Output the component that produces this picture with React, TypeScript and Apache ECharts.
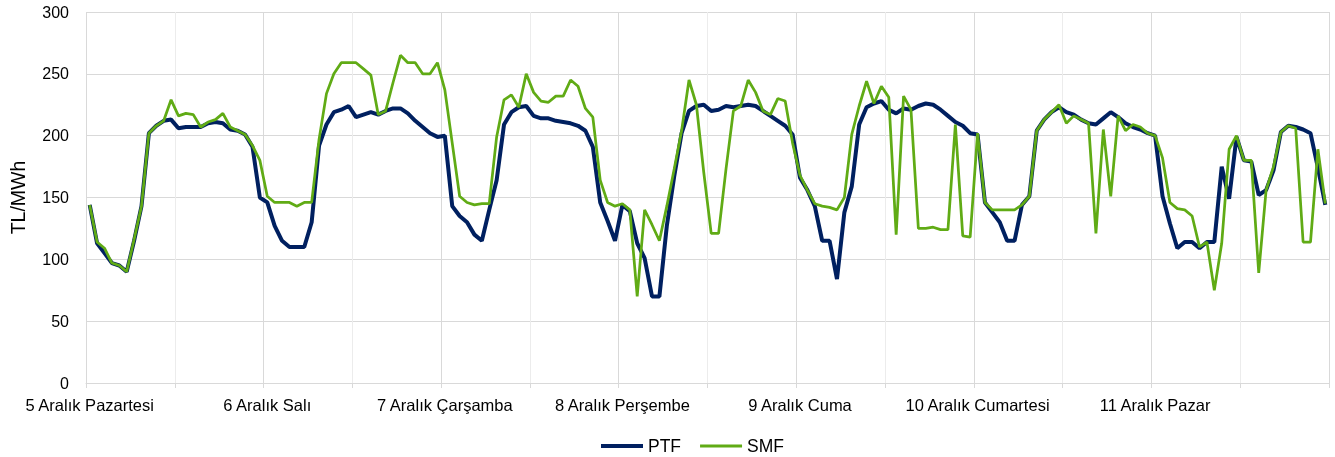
import React, { useEffect, useRef } from 'react';
import * as echarts from 'echarts';

const dayLabels = [
  '5 Aralık Pazartesi',
  '6 Aralık Salı',
  '7 Aralık Çarşamba',
  '8 Aralık Perşembe',
  '9 Aralık Cuma',
  '10 Aralık Cumartesi',
  '11 Aralık Pazar',
];
const hours = [
  '00', '01', '02', '03', '04', '05', '06', '07', '08', '09', '10', '11',
  '12', '13', '14', '15', '16', '17', '18', '19', '20', '21', '22', '23',
];

const ptfDay1 = [144, 113, 105, 97, 95, 90, 115, 143, 202, 208, 212, 213, 206, 207, 207, 207, 210, 211, 210, 205, 204, 201, 191, 150];
const ptfDay2 = [146, 127, 115, 110, 110, 110, 130, 192, 209, 219, 221, 224, 215, 217, 219, 217, 220, 222, 222, 218, 212, 207, 202, 199];
const ptfDay3 = [200, 143, 135, 130, 120, 115, 140, 164, 209, 219, 223, 224, 216, 214, 214, 212, 211, 210, 208, 204, 191, 146, 131, 115];
const ptfDay4 = [144, 139, 113, 101, 70, 70, 127, 167, 202, 220, 224, 225, 220, 221, 224, 223, 224, 225, 224, 220, 216, 212, 208, 201];
const ptfDay5 = [166, 156, 143, 115, 115, 84, 138, 159, 209, 223, 226, 228, 221, 218, 222, 221, 224, 226, 225, 221, 216, 211, 208, 202];
const ptfDay6 = [201, 146, 138, 130, 115, 115, 144, 151, 204, 213, 219, 223, 219, 217, 213, 210, 209, 214, 219, 215, 210, 207, 205, 202];
const ptfDay7 = [200, 151, 129, 109, 114, 114, 109, 114, 114, 175, 149, 199, 180, 179, 152, 156, 172, 203, 208, 207, 205, 202, 174, 144];

const smfDay1 = [144, 114, 109, 97, 95, 90, 116, 143, 202, 208, 212, 229, 216, 218, 217, 207, 211, 213, 218, 207, 204, 201, 192, 180];
const smfDay2 = [151, 146, 146, 146, 143, 146, 146, 197, 234, 250, 259, 259, 259, 254, 249, 217, 220, 243, 265, 259, 259, 250, 250, 259];
const smfDay3 = [237, 194, 151, 146, 144, 145, 145, 199, 229, 233, 223, 250, 235, 228, 227, 232, 232, 245, 240, 222, 215, 164, 146, 143];
const smfDay4 = [145, 140, 70, 140, 128, 115, 143, 173, 204, 245, 225, 170, 121, 121, 173, 220, 224, 245, 235, 220, 217, 230, 228, 194];
const smfDay5 = [168, 156, 145, 143, 142, 140, 150, 201, 224, 244, 226, 240, 231, 120, 232, 221, 125, 125, 126, 124, 124, 209, 119, 118];
const smfDay6 = [202, 146, 140, 140, 140, 140, 144, 151, 204, 213, 219, 225, 210, 216, 213, 210, 121, 205, 151, 216, 204, 209, 207, 202];
const smfDay7 = [200, 182, 146, 141, 140, 135, 110, 114, 75, 113, 189, 200, 180, 180, 89, 156, 175, 203, 208, 206, 114, 114, 189, 145];

const ptf = [...ptfDay1, ...ptfDay2, ...ptfDay3, ...ptfDay4, ...ptfDay5, ...ptfDay6, ...ptfDay7];
const smf = [...smfDay1, ...smfDay2, ...smfDay3, ...smfDay4, ...smfDay5, ...smfDay6, ...smfDay7];

const categories = dayLabels.flatMap((d) => hours.map((h) => `${d} ${h}:00`));

const FONT = 'Liberation Sans, Arial, sans-serif';
const PTF_COLOR = '#002060';
const SMF_COLOR = '#60AB15';

export default function App() {
  const ref = useRef<HTMLDivElement>(null);
  useEffect(() => {
    const chart = echarts.init(ref.current as HTMLDivElement, null, { renderer: 'svg' });
    chart.setOption({
      animation: false,
      textStyle: { fontFamily: FONT },
      grid: { left: 83, right: 6, top: 12, bottom: 74, containLabel: false },
      legend: {
        data: [
          { name: 'PTF', icon: 'path://M0,0H42V4H0Z' },
          { name: 'SMF', icon: 'path://M0,0H42V3H0Z' },
        ],
        left: 601,
        top: 437,
        padding: 0,
        itemWidth: 42,
        itemHeight: 14,
        itemGap: 19,
        textStyle: { fontFamily: FONT, fontSize: 17.5, color: '#000' },
      },
      xAxis: {
        type: 'category',
        data: categories,
        boundaryGap: true,
        axisLine: { show: true, lineStyle: { color: '#d9d9d9', width: 1 } },
        axisTick: { show: true, interval: 11, length: 5, lineStyle: { color: '#d9d9d9' } },
        axisLabel: {
          interval: 23,
          margin: 13,
          fontSize: 16.5,
          color: '#000',
          fontFamily: FONT,
          formatter: (v: string) => v.replace(/ \d\d:00$/, ''),
        },
        splitLine: {
          show: true,
          interval: 11,
          lineStyle: { color: ['#d9d9d9', '#ececec'], width: 1 },
        },
      },
      yAxis: {
        type: 'value',
        min: 0,
        max: 300,
        interval: 50,
        name: 'TL/MWh',
        nameLocation: 'middle',
        nameGap: 58,
        nameTextStyle: { fontFamily: FONT, fontSize: 19.5, color: '#000' },
        axisLine: { show: false },
        axisTick: { show: false },
        axisLabel: { margin: 17, fontSize: 16, color: '#000', fontFamily: FONT },
        splitLine: { show: true, lineStyle: { color: '#d9d9d9', width: 1 } },
      },
      series: [
        {
          name: 'PTF',
          type: 'line',
          data: ptf,
          symbol: 'none',
          lineStyle: { color: PTF_COLOR, width: 4 },
          itemStyle: { color: PTF_COLOR },
        },
        {
          name: 'SMF',
          type: 'line',
          data: smf,
          symbol: 'none',
          lineStyle: { color: SMF_COLOR, width: 2.75 },
          itemStyle: { color: SMF_COLOR },
        },
      ],
    });
    return () => chart.dispose();
  }, []);
  return (
    <div
      ref={ref}
      style={{ position: 'fixed', left: 0, top: 0, width: 1335, height: 457 }}
    />
  );
}
